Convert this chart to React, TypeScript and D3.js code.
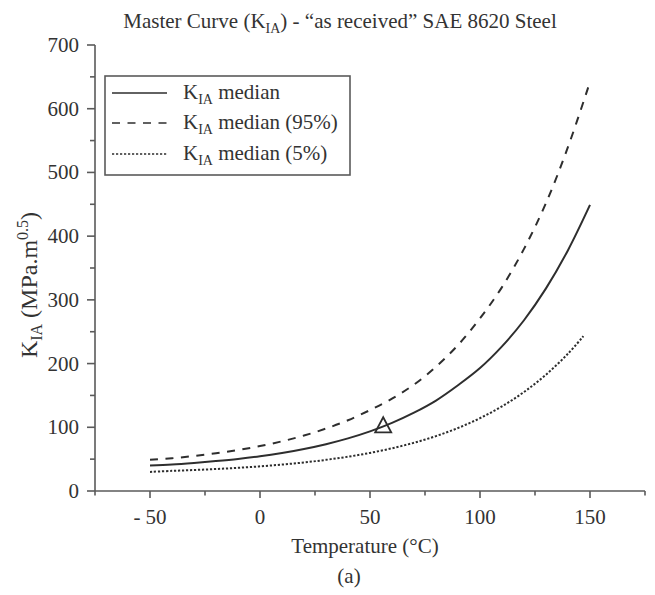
import React from "react";
import * as d3 from "d3";

const temps = [-50, -40, -30, -20, -10, 0, 10, 20, 30, 40, 50, 60, 70, 80, 90, 100, 110, 120, 130, 140, 150];
const medianK = [40, 41.5, 44, 47, 50.4, 54.6, 59.8, 66, 73.5, 82.6, 93.6, 107, 123, 142, 166, 193, 227, 268, 318, 378, 449];
const upperK = [49, 51.4, 54.9, 59.2, 64.3, 70.5, 78, 87, 98, 111, 127, 145, 167, 195, 229, 271, 320, 380, 452, 540, 642];
const lowerTemps = [-50, -40, -30, -20, -10, 0, 10, 20, 30, 40, 50, 60, 70, 80, 90, 100, 110, 120, 130, 140, 147];
const lowerK = [30, 31.6, 32.9, 34.5, 36.4, 38.7, 41.5, 44.8, 48.9, 53.8, 59.8, 67, 75.7, 86.2, 98.9, 114.3, 132.9, 155.4, 182.6, 215.5, 243];
const markerPoint = [56, 100];
const xMajor = [-50, 0, 50, 100, 150];
const xMinor = [-75, -25, 25, 75, 125, 175];
const yMajor = [0, 100, 200, 300, 400, 500, 600, 700];
const yMinor = [50, 150, 250, 350, 450, 550, 650];
const xTickLabels = ["- 50", "0", "50", "100", "150"];
const legendLabels = [" median", " median (95%)", " median (5%)"];

const W = 655, H = 595;
const FONT = "'Liberation Serif', 'Times New Roman', serif";
const AX = "#5a5a5a";
const LN = "#2e2e2e";
const TX = "#333";
const FS = 21;
const SUB = 14;

export default function App() {
  const x = d3.scaleLinear().domain([-75, 175]).range([95, 645]);
  const y = d3.scaleLinear().domain([0, 700]).range([491, 45]);
  const line = d3.line<[number, number]>().x(d => x(d[0])).y(d => y(d[1])).curve(d3.curveCatmullRom.alpha(0.5));
  const med = line(temps.map((t, i) => [t, medianK[i]]) as [number, number][]) || "";
  const up = line(temps.map((t, i) => [t, upperK[i]]) as [number, number][]) || "";
  const lo = line(lowerTemps.map((t, i) => [t, lowerK[i]]) as [number, number][]) || "";

  const mx = x(markerPoint[0]);
  const my = y(markerPoint[1]);
  const tri = `M${mx},${my - 10} L${mx + 8},${my + 5} L${mx - 8},${my + 5} Z`;

  const dashes = [undefined as string | undefined, "8,7.5", "2.2,1.8"];
  const legendRows = [93, 123, 154];

  return (
    <svg width={W} height={H} style={{ position: "absolute", left: 0, top: 0, background: "#fff" }} fontFamily={FONT}>
      <rect x={0} y={0} width={W} height={H} fill="#fff" />
      {/* title */}
      <text x={340} y={28} textAnchor="middle" fontSize={FS} fill={TX}>
        Master Curve (K<tspan fontSize={SUB} dy={5}>IA</tspan><tspan dy={-5}>) - “as received” SAE 8620 Steel</tspan>
      </text>

      {/* axes */}
      <line x1={x(-75)} x2={x(175)} y1={y(0)} y2={y(0)} stroke={AX} strokeWidth={1.6} />
      <line x1={x(-75)} x2={x(-75)} y1={y(700)} y2={y(0)} stroke={AX} strokeWidth={1.6} />
      {xMajor.map((v, i) => (
        <g key={"xm" + v}>
          <line x1={x(v)} x2={x(v)} y1={y(0)} y2={y(0) + 7} stroke={AX} strokeWidth={1.6} />
          <text x={x(v)} y={524} textAnchor="middle" fontSize={FS} fill={TX}>{xTickLabels[i]}</text>
        </g>
      ))}
      {xMinor.map(v => (
        <line key={"xn" + v} x1={x(v)} x2={x(v)} y1={y(0)} y2={y(0) + 4.5} stroke={AX} strokeWidth={1.6} />
      ))}
      {yMajor.map(v => (
        <g key={"ym" + v}>
          <line x1={x(-75) - 8} x2={x(-75)} y1={y(v)} y2={y(v)} stroke={AX} strokeWidth={1.6} />
          <text x={79} y={y(v) + 7} textAnchor="end" fontSize={FS} fill={TX}>{v}</text>
        </g>
      ))}
      {yMinor.map(v => (
        <line key={"yn" + v} x1={x(-75) - 5} x2={x(-75)} y1={y(v)} y2={y(v)} stroke={AX} strokeWidth={1.6} />
      ))}

      {/* axis titles */}
      <text x={365} y={553} textAnchor="middle" fontSize={FS} fill={TX}>Temperature (°C)</text>
      <text x={349} y={583} textAnchor="middle" fontSize={FS} fill={TX}>(a)</text>
      <text transform="translate(37,285) rotate(-90)" textAnchor="middle" fontSize={24} fill={TX}>
        K<tspan fontSize={16} dy={5}>IA</tspan><tspan dy={-5}> (MPa.m</tspan><tspan fontSize={16} dy={-9}>0.5</tspan><tspan dy={9}>)</tspan>
      </text>

      {/* curves */}
      <path d={up} fill="none" stroke={LN} strokeWidth={2} strokeDasharray="8,7.5" />
      <path d={med} fill="none" stroke={LN} strokeWidth={2} />
      <path d={lo} fill="none" stroke={LN} strokeWidth={2} strokeDasharray="2.2,1.8" />
      <path d={tri} fill="none" stroke={LN} strokeWidth={1.8} />

      {/* legend */}
      <rect x={105} y={76} width={245} height={99} fill="#fff" stroke={AX} strokeWidth={1.6} />
      {legendLabels.map((lab, i) => (
        <g key={lab}>
          <line x1={112} x2={167} y1={legendRows[i]} y2={legendRows[i]} stroke={LN} strokeWidth={1.6} strokeDasharray={dashes[i]} />
          <text x={183} y={legendRows[i] + 6} fontSize={FS} fill={TX}>
            K<tspan fontSize={SUB} dy={5}>IA</tspan><tspan dy={-5}>{lab}</tspan>
          </text>
        </g>
      ))}
    </svg>
  );
}
